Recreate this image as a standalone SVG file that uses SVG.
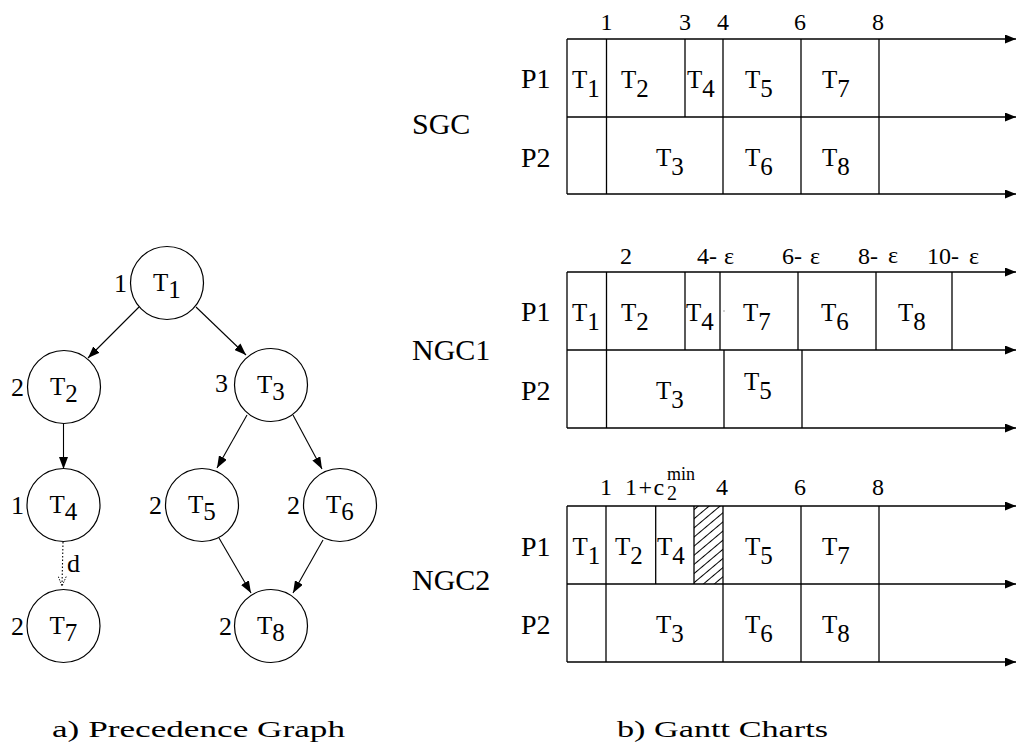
<svg xmlns="http://www.w3.org/2000/svg" width="1016" height="749" viewBox="0 0 1016 749" font-family="'Liberation Serif', 'Times New Roman', serif">
<defs>
<style>
text{font-family:'Liberation Serif','Times New Roman',serif;fill:#000}
.ln{stroke:#000;stroke-width:1.3;fill:none}
.cl{stroke:#000;stroke-width:1.2;fill:#fff}
.ed{stroke:#000;stroke-width:1.1;fill:none}
.t{font-size:25px}
.tm{font-size:24px;text-anchor:middle}
.ts{font-size:24px}
.p{font-size:28px}
.lab{font-size:30px}
.g{font-size:25px}
.w{font-size:26px;text-anchor:end}
.cap{font-size:24px}
</style>
<marker id="ah" markerWidth="12" markerHeight="9" refX="12" refY="4.5" orient="auto" markerUnits="userSpaceOnUse">
<path d="M0,0 L12,4.5 L0,9 z" fill="#000"/>
</marker>
<marker id="ao" markerWidth="10" markerHeight="9" refX="10" refY="4.5" orient="auto" markerUnits="userSpaceOnUse">
<path d="M0.5,0.5 L10,4.5 L0.5,8.5" fill="none" stroke="#000" stroke-width="0.9" stroke-dasharray="1.5,1.2"/>
</marker>
<marker id="ax" markerWidth="11" markerHeight="9" refX="11" refY="4.5" orient="auto" markerUnits="userSpaceOnUse">
<path d="M0,0 L11,4.5 L0,9 z" fill="#000"/>
</marker>
<pattern id="hatch" width="7" height="7" patternUnits="userSpaceOnUse" patternTransform="rotate(-40)">
<line x1="0" y1="3.5" x2="7" y2="3.5" stroke="#000" stroke-width="1"/>
</pattern>
</defs>
<rect width="1016" height="749" fill="#fff"/>

<g id="connectors">
<line class="ed" x1="139" y1="307" x2="88" y2="358" marker-end="url(#ah)"/>
<line class="ed" x1="196" y1="307" x2="246" y2="355" marker-end="url(#ah)"/>
<line class="ed" x1="63.5" y1="423" x2="63.5" y2="469" marker-end="url(#ah)"/>
<line class="ed" x1="247" y1="415" x2="217" y2="468" marker-end="url(#ah)"/>
<line class="ed" x1="293" y1="415" x2="322" y2="469" marker-end="url(#ah)"/>
<line class="ed" x1="219" y1="538" x2="251" y2="593" marker-end="url(#ah)"/>
<line class="ed" x1="323" y1="540" x2="293" y2="593" marker-end="url(#ah)"/>
<line class="ed" x1="63" y1="542" x2="62" y2="586" stroke-dasharray="1.5,2" marker-end="url(#ao)"/>
<text class="g" x="67" y="572" style="font-size:26px">d</text>
</g>

<g id="T1"><circle class="cl" cx="167" cy="283" r="36.5"/><text class="w" x="127" y="292">1</text><text class="g" x="153" y="291">T<tspan dy="7">1</tspan></text></g>
<g id="T2"><circle class="cl" cx="64" cy="387" r="36.5"/><text class="w" x="24" y="396">2</text><text class="g" x="50" y="395">T<tspan dy="7">2</tspan></text></g>
<g id="T3"><circle class="cl" cx="271" cy="385" r="36.5"/><text class="w" x="228" y="392">3</text><text class="g" x="257" y="393">T<tspan dy="7">3</tspan></text></g>
<g id="T4"><circle class="cl" cx="63.5" cy="505" r="36.5"/><text class="w" x="24" y="514">1</text><text class="g" x="49.5" y="513">T<tspan dy="7">4</tspan></text></g>
<g id="T5"><circle class="cl" cx="202" cy="505" r="36.5"/><text class="w" x="162" y="514">2</text><text class="g" x="188" y="513">T<tspan dy="7">5</tspan></text></g>
<g id="T6"><circle class="cl" cx="340" cy="505" r="36.5"/><text class="w" x="300" y="514">2</text><text class="g" x="326" y="513">T<tspan dy="7">6</tspan></text></g>
<g id="T7"><circle class="cl" cx="63.5" cy="626" r="36.5"/><text class="w" x="24" y="635">2</text><text class="g" x="49.5" y="634">T<tspan dy="7">7</tspan></text></g>
<g id="T8"><circle class="cl" cx="271" cy="626" r="36.5"/><text class="w" x="232" y="635">2</text><text class="g" x="257" y="634">T<tspan dy="7">8</tspan></text></g>

<g id="SGC">
<text class="lab" x="412" y="134">SGC</text>
<text class="p" x="521" y="88">P1</text>
<text class="p" x="521" y="167">P2</text>
<line class="ln" x1="567" y1="39" x2="1016" y2="39" marker-end="url(#ax)"/>
<line class="ln" x1="567" y1="117" x2="1016" y2="117" marker-end="url(#ax)"/>
<line class="ln" x1="567" y1="194" x2="1016" y2="194" marker-end="url(#ax)"/>
<line class="ln" x1="567" y1="39" x2="567" y2="194"/>
<line class="ln" x1="606.5" y1="39" x2="606.5" y2="194"/>
<line class="ln" x1="685" y1="39" x2="685" y2="117"/>
<line class="ln" x1="723" y1="39" x2="723" y2="194"/>
<line class="ln" x1="801" y1="39" x2="801" y2="194"/>
<line class="ln" x1="879" y1="39" x2="879" y2="194"/>
<text class="tm" x="606.5" y="30">1</text>
<text class="tm" x="685" y="30">3</text>
<text class="tm" x="723" y="30">4</text>
<text class="tm" x="800" y="30">6</text>
<text class="tm" x="878" y="30">8</text>
<text class="t" x="572" y="88">T<tspan dy="9">1</tspan></text>
<text class="t" x="621" y="88">T<tspan dy="9">2</tspan></text>
<text class="t" x="687" y="88">T<tspan dy="9">4</tspan></text>
<text class="t" x="745" y="88">T<tspan dy="9">5</tspan></text>
<text class="t" x="822" y="88">T<tspan dy="9">7</tspan></text>
<text class="t" x="656" y="166">T<tspan dy="9">3</tspan></text>
<text class="t" x="745" y="166">T<tspan dy="9">6</tspan></text>
<text class="t" x="822" y="166">T<tspan dy="9">8</tspan></text>
</g>

<g id="NGC1">
<text class="lab" x="412" y="360">NGC1</text>
<text class="p" x="521" y="321">P1</text>
<text class="p" x="521" y="400">P2</text>
<line class="ln" x1="567" y1="272" x2="1016" y2="272" marker-end="url(#ax)"/>
<line class="ln" x1="567" y1="350" x2="1016" y2="350" marker-end="url(#ax)"/>
<line class="ln" x1="567" y1="428" x2="1016" y2="428" marker-end="url(#ax)"/>
<line class="ln" x1="567" y1="272" x2="567" y2="428"/>
<line class="ln" x1="606.5" y1="272" x2="606.5" y2="428"/>
<line class="ln" x1="685" y1="272" x2="685" y2="350"/>
<line class="ln" x1="720" y1="272" x2="720" y2="350"/>
<line class="ln" x1="798" y1="272" x2="798" y2="350"/>
<line class="ln" x1="876" y1="272" x2="876" y2="350"/>
<line class="ln" x1="952" y1="272" x2="952" y2="350"/>
<line class="ln" x1="724" y1="350" x2="724" y2="428"/>
<line class="ln" x1="802" y1="350" x2="802" y2="428"/>
<rect x="723.5" y="310.5" width="1" height="1" fill="#555"/>
<text class="tm" x="626" y="264">2</text>
<text class="ts" x="697" y="264">4-<tspan x="724">ε</tspan></text>
<text class="ts" x="782" y="264">6-<tspan x="810">ε</tspan></text>
<text class="ts" x="858" y="264">8-<tspan x="888" y="262.5">ε</tspan></text>
<text class="ts" x="927" y="264">10-<tspan x="969">ε</tspan></text>
<text class="t" x="572" y="321">T<tspan dy="9">1</tspan></text>
<text class="t" x="621" y="321">T<tspan dy="9">2</tspan></text>
<text class="t" x="686" y="321">T<tspan dy="9">4</tspan></text>
<text class="t" x="743" y="321">T<tspan dy="9">7</tspan></text>
<text class="t" x="821" y="321">T<tspan dy="9">6</tspan></text>
<text class="t" x="898" y="321">T<tspan dy="9">8</tspan></text>
<text class="t" x="656" y="399">T<tspan dy="9">3</tspan></text>
<text class="t" x="744" y="390">T<tspan dy="9">5</tspan></text>
</g>

<g id="NGC2">
<text class="lab" x="412" y="590">NGC2</text>
<text class="p" x="521" y="556">P1</text>
<text class="p" x="521" y="634">P2</text>
<rect x="694" y="506" width="29" height="78" fill="url(#hatch)"/>
<line class="ln" x1="567" y1="506" x2="1016" y2="506" marker-end="url(#ax)"/>
<line class="ln" x1="567" y1="584" x2="1016" y2="584" marker-end="url(#ax)"/>
<line class="ln" x1="567" y1="662" x2="1016" y2="662" marker-end="url(#ax)"/>
<line class="ln" x1="567" y1="506" x2="567" y2="662"/>
<line class="ln" x1="606" y1="506" x2="606" y2="662"/>
<line class="ln" x1="655.7" y1="506" x2="655.7" y2="584"/>
<line class="ln" x1="694" y1="506" x2="694" y2="584"/>
<line class="ln" x1="723" y1="506" x2="723" y2="662"/>
<line class="ln" x1="801" y1="506" x2="801" y2="662"/>
<line class="ln" x1="879" y1="506" x2="879" y2="662"/>
<text class="tm" x="606" y="495">1</text>
<text class="ts" x="625" y="495" letter-spacing="1.5">1+c</text>
<text class="ts" x="667" y="500" style="font-size:20px">2</text>
<text class="ts" x="667" y="480" style="font-size:18px">min</text>
<text class="tm" x="722" y="495">4</text>
<text class="tm" x="800" y="495">6</text>
<text class="tm" x="878" y="495">8</text>
<text class="t" x="572.5" y="555">T<tspan dy="9">1</tspan></text>
<text class="t" x="615" y="555">T<tspan dy="9">2</tspan></text>
<text class="t" x="657" y="555">T<tspan dy="9">4</tspan></text>
<text class="t" x="745" y="555">T<tspan dy="9">5</tspan></text>
<text class="t" x="822" y="555">T<tspan dy="9">7</tspan></text>
<text class="t" x="656" y="633">T<tspan dy="9">3</tspan></text>
<text class="t" x="745" y="633">T<tspan dy="9">6</tspan></text>
<text class="t" x="822" y="633">T<tspan dy="9">8</tspan></text>
</g>

<text class="cap" x="52" y="737" textLength="293" lengthAdjust="spacingAndGlyphs">a) Precedence Graph</text>
<text class="cap" x="617" y="737" textLength="211" lengthAdjust="spacingAndGlyphs">b) Gantt Charts</text>
</svg>
